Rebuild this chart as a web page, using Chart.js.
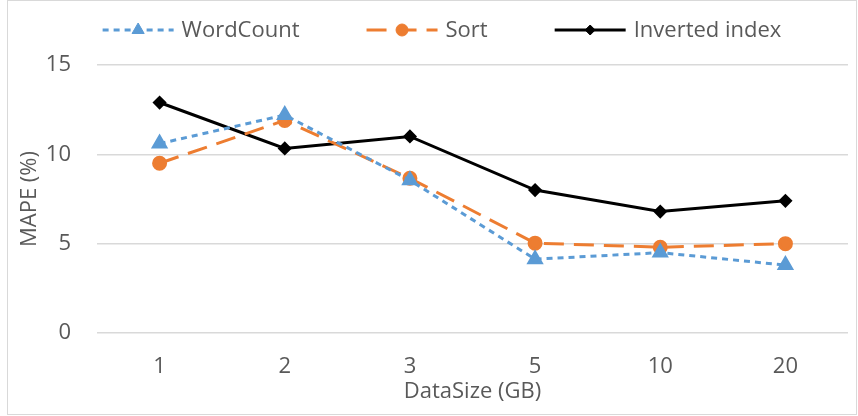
<!DOCTYPE html>
<html>
<head>
<meta charset="utf-8">
<script src="https://cdn.jsdelivr.net/npm/chart.js@4.4.0/dist/chart.umd.min.js"></script>
<style>
  html, body { margin: 0; padding: 0; background: #fff; }
  #wrap { width: 858px; height: 416px; }
</style>
</head>
<body>
<div id="wrap"><canvas id="chart" width="858" height="416"></canvas></div>
<script>
// Data
const categories = ['1', '2', '3', '5', '10', '20'];
const wordCount = [10.6, 12.2, 8.55, 4.13, 4.5, 3.8];
const sortData = [9.5, 11.9, 8.66, 5.03, 4.8, 5.0];
const invertedIndex = [12.9, 10.33, 11.0, 8.0, 6.8, 7.4];
const yTicks = [0, 5, 10, 15];

const FONT = '"Open Sans", "Liberation Sans", sans-serif';
const FONT_SIZE = 22;
const TEXT_COLOR = '#595959';

// Light border around the whole chart
const borderPlugin = {
    id: 'outerBorder',
    beforeDraw(chart) {
        const ctx = chart.ctx;
        ctx.save();
        ctx.strokeStyle = '#d9d9d9';
        ctx.lineWidth = 1;
        ctx.strokeRect(7.5, 0.5, 849, 414);
        ctx.restore();
    }
};

// Excel style legend: line + marker + label
const legendPlugin = {
    id: 'excelLegend',
    afterDraw(chart) {
        const ctx = chart.ctx;
        const lineLen = 71;
        const gap = 8;
        const itemGap = 67;
        const y = 30;
        const centerX = 442;
        ctx.save();
        ctx.font = FONT_SIZE + 'px ' + FONT;
        const items = chart.data.datasets.map(ds => ({
            ds,
            w: lineLen + gap + ctx.measureText(ds.label).width
        }));
        const total = items.reduce((s, it) => s + it.w, 0) + itemGap * (items.length - 1);
        let x = centerX - total / 2;
        items.forEach(it => {
            const ds = it.ds;
            ctx.strokeStyle = ds.borderColor;
            ctx.lineWidth = ds.borderWidth;
            ctx.setLineDash(ds.borderDash || []);
            ctx.beginPath();
            ctx.moveTo(x, y);
            ctx.lineTo(x + lineLen, y);
            ctx.stroke();
            ctx.setLineDash([]);
            ctx.fillStyle = ds.pointBackgroundColor;
            ctx.strokeStyle = ds.pointBorderColor;
            ctx.lineWidth = 1;
            Chart.helpers.drawPoint(ctx, {
                pointStyle: ds.pointStyle,
                radius: ds.pointRadius,
                borderWidth: 1
            }, x + lineLen / 2, y);
            ctx.fillStyle = TEXT_COLOR;
            ctx.textBaseline = 'middle';
            ctx.textAlign = 'left';
            ctx.fillText(ds.label, x + lineLen + gap, y + 1);
            x += it.w + itemGap;
        });
        ctx.restore();
    }
};

const ctx = document.getElementById('chart').getContext('2d');

new Chart(ctx, {
    type: 'line',
    data: {
        labels: categories,
        datasets: [
            {
                label: 'WordCount',
                data: wordCount,
                borderColor: '#5B9BD5',
                backgroundColor: '#5B9BD5',
                borderWidth: 3,
                borderDash: [6, 5],
                pointStyle: 'triangle',
                pointRadius: 7,
                pointBackgroundColor: '#5B9BD5',
                pointBorderColor: '#5B9BD5',
                tension: 0
            },
            {
                label: 'Sort',
                data: sortData,
                borderColor: '#ED7D31',
                backgroundColor: '#ED7D31',
                borderWidth: 3,
                borderDash: [20, 10],
                pointStyle: 'circle',
                pointRadius: 6,
                pointBackgroundColor: '#ED7D31',
                pointBorderColor: '#ED7D31',
                tension: 0
            },
            {
                label: 'Inverted index',
                data: invertedIndex,
                borderColor: '#000000',
                backgroundColor: '#000000',
                borderWidth: 3,
                pointStyle: 'rectRot',
                pointRadius: 5,
                pointBackgroundColor: '#000000',
                pointBorderColor: '#000000',
                tension: 0
            }
        ]
    },
    options: {
        responsive: false,
        animation: false,
        layout: {
            padding: { top: 65, left: 17, right: 10, bottom: 11 }
        },
        plugins: {
            legend: { display: false },
            tooltip: { enabled: false }
        },
        scales: {
            x: {
                offset: true,
                afterFit: axis => { axis.height = 72; },
                grid: { display: false, drawTicks: false },
                border: { display: false },
                ticks: {
                    color: TEXT_COLOR,
                    font: { family: FONT, size: FONT_SIZE },
                    padding: 21
                },
                title: {
                    display: true,
                    text: 'DataSize (GB)',
                    color: TEXT_COLOR,
                    font: { family: FONT, size: FONT_SIZE },
                    padding: { top: 0, bottom: 0 }
                }
            },
            y: {
                min: 0,
                max: 15,
                afterBuildTicks: axis => {
                    axis.ticks = yTicks.map(v => ({ value: v }));
                },
                afterFit: axis => { axis.width = 80; },
                grid: { color: '#d9d9d9', lineWidth: 1.5, drawTicks: false },
                border: { display: false },
                ticks: {
                    color: TEXT_COLOR,
                    font: { family: FONT, size: FONT_SIZE },
                    padding: 26
                },
                title: {
                    display: true,
                    text: 'MAPE (%)',
                    color: TEXT_COLOR,
                    font: { family: FONT, size: FONT_SIZE },
                    padding: { top: 0, bottom: 5 }
                }
            }
        }
    },
    plugins: [borderPlugin, legendPlugin]
});
</script>
</body>
</html>
